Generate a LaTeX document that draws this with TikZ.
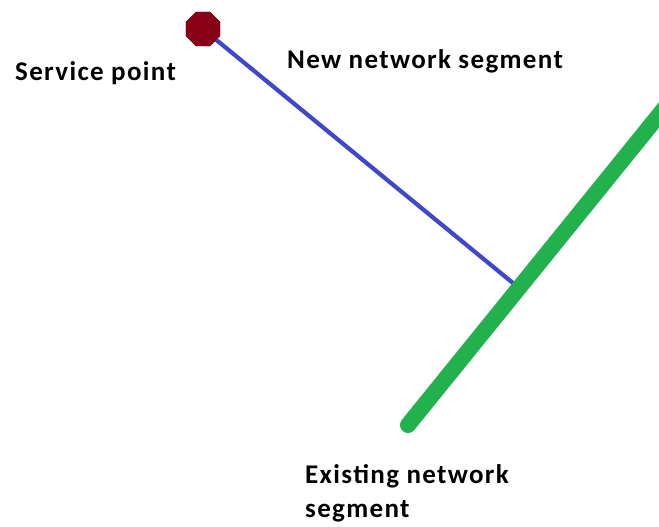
\documentclass[tikz,border=0pt]{standalone}
\usepackage{fontspec}
\setmainfont{Carlito}
\usetikzlibrary{shapes.geometric}
\definecolor{pointred}{RGB}{136,0,21}
\definecolor{newblue}{RGB}{63,72,204}
\definecolor{oldgreen}{RGB}{34,177,76}
\newfontfamily\labelfont[LetterSpace=5]{Carlito}
\tikzset{
  label text/.style={anchor=base west, inner sep=0pt, font=\labelfont\fontsize{27}{34}\selectfont\bfseries, text=black},
  service/.style={regular polygon, regular polygon sides=8, minimum size=37pt, inner sep=0pt, fill=pointred, draw=none},
  newseg/.style={draw=newblue, line width=4.2pt},
  oldseg/.style={draw=oldgreen, line width=16pt, line cap=round}
}
\begin{document}
\begin{tikzpicture}[x=1pt, y=-1pt]
  \useasboundingbox (0,0) rectangle (659,527);
  \clip (0,0) rectangle (659,527);
  \fill[white] (0,0) rectangle (659,527);

  % existing segment end points and the tap point on it
  \coordinate (g1) at (408,425);
  \coordinate (g2) at (680,89);
  \coordinate (tap) at (519,288);

  % service point
  \node[service] (sp) at (203,29) {};

  % new segment from the service point to the existing line
  \draw[newseg] (sp.center) -- (tap);
  \node[service] at (sp.center) {};

  % existing network segment
  \draw[oldseg] (g1) -- (g2);

  % labels
  \node[label text] (lsp) at (15,81) {Service point};
  \node[label text] (lnew) at (287,69) {New network segment};
  \node[label text] (lold1) at (305,483) {Existing network};
  \node[label text] (lold2) at (305,517) {segment};
\end{tikzpicture}
\end{document}
